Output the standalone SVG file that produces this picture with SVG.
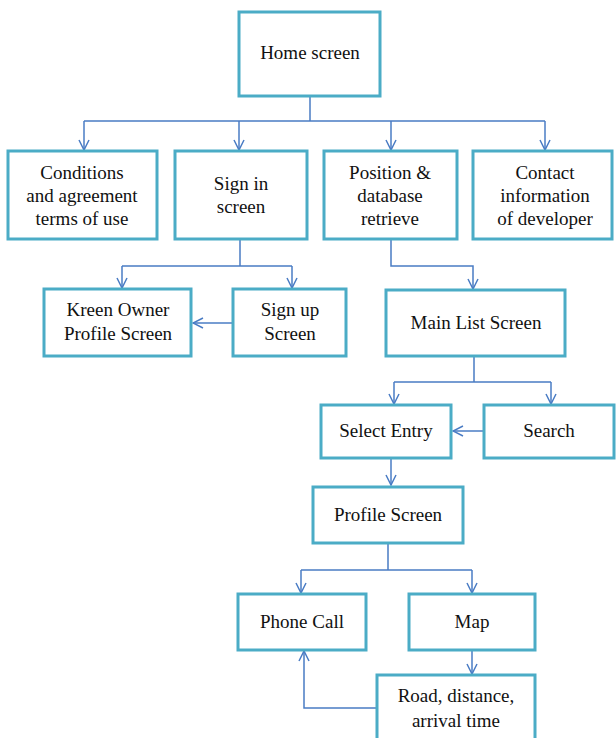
<svg xmlns="http://www.w3.org/2000/svg" width="616" height="738" viewBox="0 0 616 738">
<style>
.box{fill:#fff;stroke:#4BACC6;stroke-width:3}
.c{fill:none;stroke:#4A7CC4;stroke-width:1.5}
</style>
<defs>
<marker id="a" viewBox="0 0 12 12" refX="11" refY="6" markerWidth="12" markerHeight="12" markerUnits="userSpaceOnUse" orient="auto">
<path d="M1,1 L11,6 L1,11" fill="none" stroke="#4A7CC4" stroke-width="1.5"/>
</marker>
</defs>
<rect width="616" height="738" fill="#fff"/>
<g id="connectors">
<path class="c" d="M310,96 V121 M84,121 H545"/>
<path class="c" d="M84,121 V150" marker-end="url(#a)"/>
<path class="c" d="M239,121 V150" marker-end="url(#a)"/>
<path class="c" d="M391,121 V150" marker-end="url(#a)"/>
<path class="c" d="M545,121 V150" marker-end="url(#a)"/>
<path class="c" d="M240,239 V266 M122,266 H292"/>
<path class="c" d="M122,266 V288" marker-end="url(#a)"/>
<path class="c" d="M292,266 V288" marker-end="url(#a)"/>
<path class="c" d="M233,323 H193" marker-end="url(#a)"/>
<path class="c" d="M391,239 V266 H473 V289" marker-end="url(#a)"/>
<path class="c" d="M474,356 V382 M394,382 H551"/>
<path class="c" d="M394,382 V404" marker-end="url(#a)"/>
<path class="c" d="M551,382 V404" marker-end="url(#a)"/>
<path class="c" d="M484,431 H453" marker-end="url(#a)"/>
<path class="c" d="M391,458 V485" marker-end="url(#a)"/>
<path class="c" d="M388,543 V570 M301,570 H472"/>
<path class="c" d="M301,570 V593" marker-end="url(#a)"/>
<path class="c" d="M472,570 V593" marker-end="url(#a)"/>
<path class="c" d="M472,650 V674" marker-end="url(#a)"/>
<path class="c" d="M377,708 H304 V651" marker-end="url(#a)"/>
</g>
<g id="nodes" font-family="Liberation Serif, DejaVu Serif, serif" font-size="19" fill="#111" text-anchor="middle">
<g id="home"><rect class="box" x="239" y="12" width="141" height="84"/><text x="310" y="59">Home screen</text></g>
<g id="conditions"><rect class="box" x="8" y="151" width="149" height="88"/><text x="82" y="179">Conditions</text><text x="82" y="202">and agreement</text><text x="82" y="225">terms of use</text></g>
<g id="signin"><rect class="box" x="175" y="151" width="132" height="88"/><text x="241" y="190">Sign in</text><text x="241" y="213">screen</text></g>
<g id="position"><rect class="box" x="324" y="151" width="133" height="88"/><text x="390" y="179">Position &amp;</text><text x="390" y="202">database</text><text x="390" y="225">retrieve</text></g>
<g id="contact"><rect class="box" x="473" y="151" width="139" height="88"/><text x="545" y="179">Contact</text><text x="545" y="202">information</text><text x="545" y="225">of developer</text></g>
<g id="kreen"><rect class="box" x="44" y="289" width="147" height="67"/><text x="118" y="316">Kreen Owner</text><text x="118" y="340">Profile Screen</text></g>
<g id="signup"><rect class="box" x="233" y="289" width="113" height="67"/><text x="290" y="316">Sign up</text><text x="290" y="340">Screen</text></g>
<g id="mainlist"><rect class="box" x="386" y="290" width="179" height="66"/><text x="476" y="329">Main List Screen</text></g>
<g id="select"><rect class="box" x="321" y="405" width="130" height="53"/><text x="386" y="437">Select Entry</text></g>
<g id="search"><rect class="box" x="484" y="405" width="130" height="53"/><text x="549" y="437">Search</text></g>
<g id="profile"><rect class="box" x="313" y="487" width="150" height="56"/><text x="388" y="521">Profile Screen</text></g>
<g id="phone"><rect class="box" x="238" y="594" width="128" height="56"/><text x="302" y="628">Phone Call</text></g>
<g id="map"><rect class="box" x="409" y="594" width="126" height="56"/><text x="472" y="628">Map</text></g>
<g id="road"><rect class="box" x="377" y="675" width="158" height="70"/><text x="456" y="702">Road, distance,</text><text x="456" y="727">arrival time</text></g>
</g>
</svg>
